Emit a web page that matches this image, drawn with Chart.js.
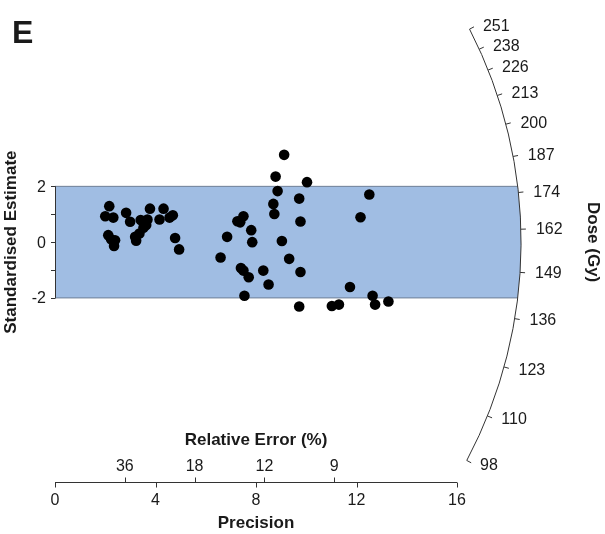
<!DOCTYPE html>
<html>
<head>
<meta charset="utf-8">
<script src="https://cdn.jsdelivr.net/npm/chart.js@4/dist/chart.umd.min.js"></script>
<style>
    html, body { margin: 0; padding: 0; background: #ffffff; }
    #radial { display: block; }
</style>
</head>
<body>
<canvas id="radial" width="605" height="534"></canvas>
<script>
// precision (1/sigma) and standardised estimate of each aliquot
var precision = [2.00, 2.16, 2.32, 2.12, 2.23, 2.39, 2.35, 2.83, 2.99, 3.19, 3.23, 3.36,
    3.41, 3.52, 3.63, 3.68, 3.78, 4.16, 4.32, 4.56, 4.69, 4.78, 4.94,
    9.12, 8.78, 10.03, 8.86, 8.69, 9.72, 12.51, 8.73, 12.16, 7.50, 7.26, 7.37,
    9.77, 7.81, 6.85, 7.85, 9.03, 6.59, 9.32, 7.40, 7.50, 7.71, 8.29, 9.77,
    8.50, 11.74, 7.54, 12.64, 9.72, 11.02, 11.30, 12.74, 13.27];
var estimate = [0.93, 1.29, 0.88, 0.25, 0.10, 0.07, -0.14, 1.05, 0.73, 0.19, 0.05, 0.31,
    0.79, 0.52, 0.61, 0.81, 1.20, 0.81, 1.20, 0.88, 0.96, 0.15, -0.26,
    3.13, 2.35, 2.15, 1.83, 1.37, 1.56, 1.71, 1.01, 0.89, 0.93, 0.75, 0.71,
    0.74, 0.43, 0.19, 0.00, 0.04, -0.55, -0.60, -0.93, -1.02, -1.26, -1.02, -1.07,
    -1.52, -1.61, -1.92, -1.92, -2.31, -2.29, -2.24, -2.24, -2.13];

var precisionTicks = [0, 4, 8, 12, 16];
var relErrorTicks = [36, 18, 12, 9];
var estimateTicks = [-2, -1, 0, 1, 2];
var estimateLabels = [-2, 0, 2];
var doseTicks = [98, 110, 123, 136, 149, 162, 174, 187, 200, 213, 226, 238, 251];
var centralDose = 158;
var arcRadius = 18.55;   // in precision units

var FONT = "'Liberation Sans', Arial, sans-serif";
var INK = '#1a1a1a';

function geom(chart) {
    var xs = chart.scales.x, ys = chart.scales.y;
    var cx = xs.getPixelForValue(0), cy = ys.getPixelForValue(0);
    var pxu = xs.getPixelForValue(1) - cx;
    var pyu = cy - ys.getPixelForValue(1);
    var R = xs.getPixelForValue(arcRadius) - cx;
    return { xs: xs, ys: ys, cx: cx, cy: cy, pxu: pxu, pyu: pyu, R: R };
}

// canvas angle of the radial line for a given dose
function doseAngle(g, d) {
    return -Math.atan(Math.log(d / centralDose) * g.pyu / g.pxu);
}

var band = {
    id: 'band',
    beforeDatasetsDraw: function(chart) {
        var g = geom(chart), ctx = chart.ctx;
        var yTop = g.ys.getPixelForValue(2), yBot = g.ys.getPixelForValue(-2);
        var aTop = Math.asin((yTop - g.cy) / g.R), aBot = Math.asin((yBot - g.cy) / g.R);
        ctx.save();
        ctx.beginPath();
        ctx.moveTo(g.cx, yTop);
        ctx.arc(g.cx, g.cy, g.R, aTop, aBot);
        ctx.lineTo(g.cx, yBot);
        ctx.closePath();
        ctx.fillStyle = '#a0bde3';
        ctx.fill();
        ctx.strokeStyle = '#6f7f96';
        ctx.lineWidth = 1;
        ctx.beginPath();
        ctx.moveTo(g.cx, yTop);
        ctx.lineTo(g.cx + g.R * Math.cos(aTop), yTop);
        ctx.moveTo(g.cx, yBot);
        ctx.lineTo(g.cx + g.R * Math.cos(aBot), yBot);
        ctx.stroke();
        ctx.restore();
    }
};

var axes = {
    id: 'axes',
    afterDraw: function(chart) {
        var g = geom(chart), ctx = chart.ctx;
        var i, x, y, a;
        ctx.save();
        ctx.strokeStyle = '#333';
        ctx.fillStyle = INK;
        ctx.lineWidth = 1;

        // y axis: standardised estimate
        ctx.beginPath();
        ctx.moveTo(g.cx + 0.5, g.ys.getPixelForValue(2));
        ctx.lineTo(g.cx + 0.5, g.ys.getPixelForValue(-2));
        for (i = 0; i < estimateTicks.length; i++) {
            y = Math.round(g.ys.getPixelForValue(estimateTicks[i])) + 0.5;
            ctx.moveTo(g.cx + 0.5, y);
            ctx.lineTo(g.cx - 4, y);
        }
        ctx.stroke();
        ctx.font = '16px ' + FONT;
        ctx.textAlign = 'right';
        ctx.textBaseline = 'middle';
        for (i = 0; i < estimateLabels.length; i++) {
            ctx.fillText(String(estimateLabels[i]), g.cx - 9, g.ys.getPixelForValue(estimateLabels[i]) + 1);
        }

        // bottom axis: precision below, relative error above
        var yAx = Math.round(chart.chartArea.bottom) + 0.5;
        ctx.beginPath();
        ctx.moveTo(g.xs.getPixelForValue(0), yAx);
        ctx.lineTo(g.xs.getPixelForValue(16), yAx);
        for (i = 0; i < precisionTicks.length; i++) {
            x = Math.round(g.xs.getPixelForValue(precisionTicks[i])) + 0.5;
            ctx.moveTo(x, yAx);
            ctx.lineTo(x, yAx + 5);
        }
        for (i = 0; i < relErrorTicks.length; i++) {
            x = Math.round(g.xs.getPixelForValue(100 / relErrorTicks[i])) + 0.5;
            ctx.moveTo(x, yAx);
            ctx.lineTo(x, yAx - 5);
        }
        ctx.stroke();
        ctx.textAlign = 'center';
        for (i = 0; i < precisionTicks.length; i++) {
            ctx.fillText(String(precisionTicks[i]), g.xs.getPixelForValue(precisionTicks[i]), yAx + 18);
        }
        for (i = 0; i < relErrorTicks.length; i++) {
            ctx.fillText(String(relErrorTicks[i]), g.xs.getPixelForValue(100 / relErrorTicks[i]), yAx - 16);
        }
        ctx.font = 'bold 17px ' + FONT;
        var xMid = g.xs.getPixelForValue(8);
        ctx.fillText('Relative Error (%)', xMid, yAx - 42);
        ctx.fillText('Precision', xMid, yAx + 41);

        // dose arc
        var a0 = doseAngle(g, doseTicks[doseTicks.length - 1]);
        var a1 = doseAngle(g, doseTicks[0]);
        ctx.beginPath();
        ctx.arc(g.cx, g.cy, g.R, a0, a1);
        ctx.stroke();
        ctx.beginPath();
        for (i = 0; i < doseTicks.length; i++) {
            a = doseAngle(g, doseTicks[i]);
            ctx.moveTo(g.cx + g.R * Math.cos(a), g.cy + g.R * Math.sin(a));
            ctx.lineTo(g.cx + (g.R + 5) * Math.cos(a), g.cy + (g.R + 5) * Math.sin(a));
        }
        ctx.stroke();
        ctx.font = '16px ' + FONT;
        ctx.textAlign = 'left';
        for (i = 0; i < doseTicks.length; i++) {
            a = doseAngle(g, doseTicks[i]);
            ctx.fillText(String(doseTicks[i]), g.cx + (g.R + 15) * Math.cos(a), g.cy + (g.R + 8) * Math.sin(a) + 1);
        }

        // titles
        ctx.font = 'bold 17px ' + FONT;
        ctx.textAlign = 'center';
        ctx.save();
        ctx.translate(11, g.cy);
        ctx.rotate(-Math.PI / 2);
        ctx.fillText('Standardised Estimate', 0, 0);
        ctx.restore();
        ctx.save();
        ctx.translate(593, g.cy);
        ctx.rotate(Math.PI / 2);
        ctx.fillText('Dose (Gy)', 0, 0);
        ctx.restore();

        ctx.font = 'bold 32px ' + FONT;
        ctx.textAlign = 'left';
        ctx.textBaseline = 'alphabetic';
        ctx.fillText('E', 12, 43);
        ctx.restore();
    }
};

var points = [];
for (var i = 0; i < precision.length; i++) {
    points.push({ x: precision[i], y: estimate[i] });
}

var radial = new Chart(document.getElementById('radial'), {
    type: 'scatter',
    data: {
        datasets: [{
            data: points,
            backgroundColor: '#000000',
            borderColor: '#000000',
            borderWidth: 0,
            pointRadius: 5.3,
            pointHoverRadius: 5.3
        }]
    },
    options: {
        responsive: false,
        animation: false,
        layout: {
            padding: { left: 55, right: 47.5, top: 19, bottom: 52 }
        },
        plugins: {
            legend: { display: false },
            tooltip: { enabled: false }
        },
        scales: {
            x: { type: 'linear', min: 0, max: 20, display: false },
            y: { type: 'linear', min: -8.6, max: 8, display: false }
        }
    },
    plugins: [band, axes]
});
</script>
</body>
</html>
